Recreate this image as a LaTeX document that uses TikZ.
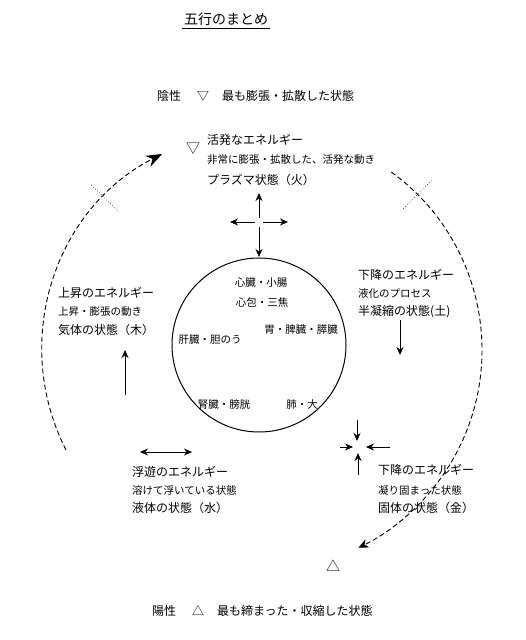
\documentclass[tikz,border=0pt]{standalone}
\usepackage{fontspec}
\setmainfont{Noto Sans CJK JP}
\usetikzlibrary{arrows.meta}
\tikzset{
  big/.style={font=\fontsize{12}{14}\selectfont, anchor=west, inner sep=0pt},
  mid/.style={font=\fontsize{10.5}{12}\selectfont, anchor=west, inner sep=0pt},
  organ/.style={font=\fontsize{10.5}{12}\selectfont, inner sep=0pt},
  arr/.style={line width=1pt, -{Stealth[length=8pt,width=7pt]}},
  outer/.style={line width=0.9pt, dash pattern=on 5pt off 3pt},
  tick/.style={line width=0.6pt, dotted}
}
\begin{document}
\begin{tikzpicture}[x=1pt,y=-1pt]
\useasboundingbox (0,0) rectangle (526,640);
% title
\node[font=\fontsize{14}{16}\selectfont, inner sep=0pt] (title) at (226,19) {五行のまとめ};
\draw[line width=0.7pt] (182,28) -- (270,28);
% top line
\node[big] (yin1) at (157,96) {陰性};
\node[big] (yin2) at (197,96) {▽};
\node[big] (yin3) at (222,96) {最も膨張・拡散した状態};
% bottom line
\node[big] (yang1) at (152,611) {陽性};
\node[big] (yang2) at (192,611) {△};
\node[big] (yang3) at (217,611) {最も締まった・収縮した状態};
% outer dashed circle
\coordinate (oc) at (262,350);
\draw[outer, -{Stealth[length=16pt,width=12pt]}] (oc) ++(207:220pt) arc[start angle=207, end angle=117, radius=220pt];
\draw[outer, -{Stealth[length=10pt,width=9pt]}] (oc) ++(54:220pt) arc[start angle=54, end angle=-64, radius=220pt];
\draw[tick] (oc) ++(136:200pt) -- ++(136:38pt);
\draw[tick] (oc) ++(45:200pt) -- ++(45:40pt);
% triangles
\node[font=\fontsize{14}{16}\selectfont, inner sep=0pt] (tri1) at (193,149) {▽};
\node[font=\fontsize{14}{16}\selectfont, inner sep=0pt] (tri2) at (333,566) {△};
% fire block
\node[big] (f1) at (207,140) {活発なエネルギー};
\node[mid] (f2) at (207,160) {非常に膨張・拡散した、活発な動き};
\node[big] (f3) at (207,180) {プラズマ状態（火）};
% cross arrows
\coordinate (cc) at (259,222);
\draw[arr] (259,218) -- (259,193);
\draw[arr] (259,227) -- (259,257);
\draw[arr] (255,222) -- (230,222);
\draw[arr] (263,222) -- (288,222);
% wood block
\node[big] (w1) at (58,293) {上昇のエネルギー};
\node[mid] (w2) at (58,312) {上昇・膨張の動き};
\node[big] (w3) at (58,330) {気体の状態（木）};
\draw[arr] (125,395) -- (125,350);
% earth block
\node[big] (e1) at (358,275) {下降のエネルギー};
\node[mid] (e2) at (358,293) {液化のプロセス};
\node[big] (e3) at (358,312) {半凝縮の状態(土)};
\draw[arr] (400,320) -- (400,355);
% inner circle
\node[draw, circle, line width=1pt, minimum size=174pt, inner sep=0pt] (ic) at (259,345) {};
\node[organ] (o1) at (261,283) {心臓・小腸};
\node[organ] (o2) at (262,302) {心包・三焦};
\node[organ] (o3) at (301,330) {胃・脾臓・膵臓};
\node[organ] (o4) at (210,340) {肝臓・胆のう};
\node[organ] (o5) at (224,405) {腎臓・膀胱};
\node[organ] (o6) at (302,405) {肺・大};
% water block
\draw[line width=1pt, {Stealth[length=8pt,width=7pt]}-{Stealth[length=8pt,width=7pt]}] (140,452) -- (192,452);
\node[big] (m1) at (132,472) {浮遊のエネルギー};
\node[mid] (m2) at (132,490) {溶けて浮いている状態};
\node[big] (m3) at (132,508) {液体の状態（水）};
% metal block
\draw[arr] (357,420) -- (357,441);
\draw[arr] (390,447) -- (366,447);
\draw[arr] (340,447) -- (353,447);
\draw[arr] (358,475) -- (358,453);
\node[big] (g1) at (378,470) {下降のエネルギー};
\node[mid] (g2) at (378,490) {凝り固まった状態};
\node[big] (g3) at (378,508) {固体の状態（金）};
\end{tikzpicture}
\end{document}
